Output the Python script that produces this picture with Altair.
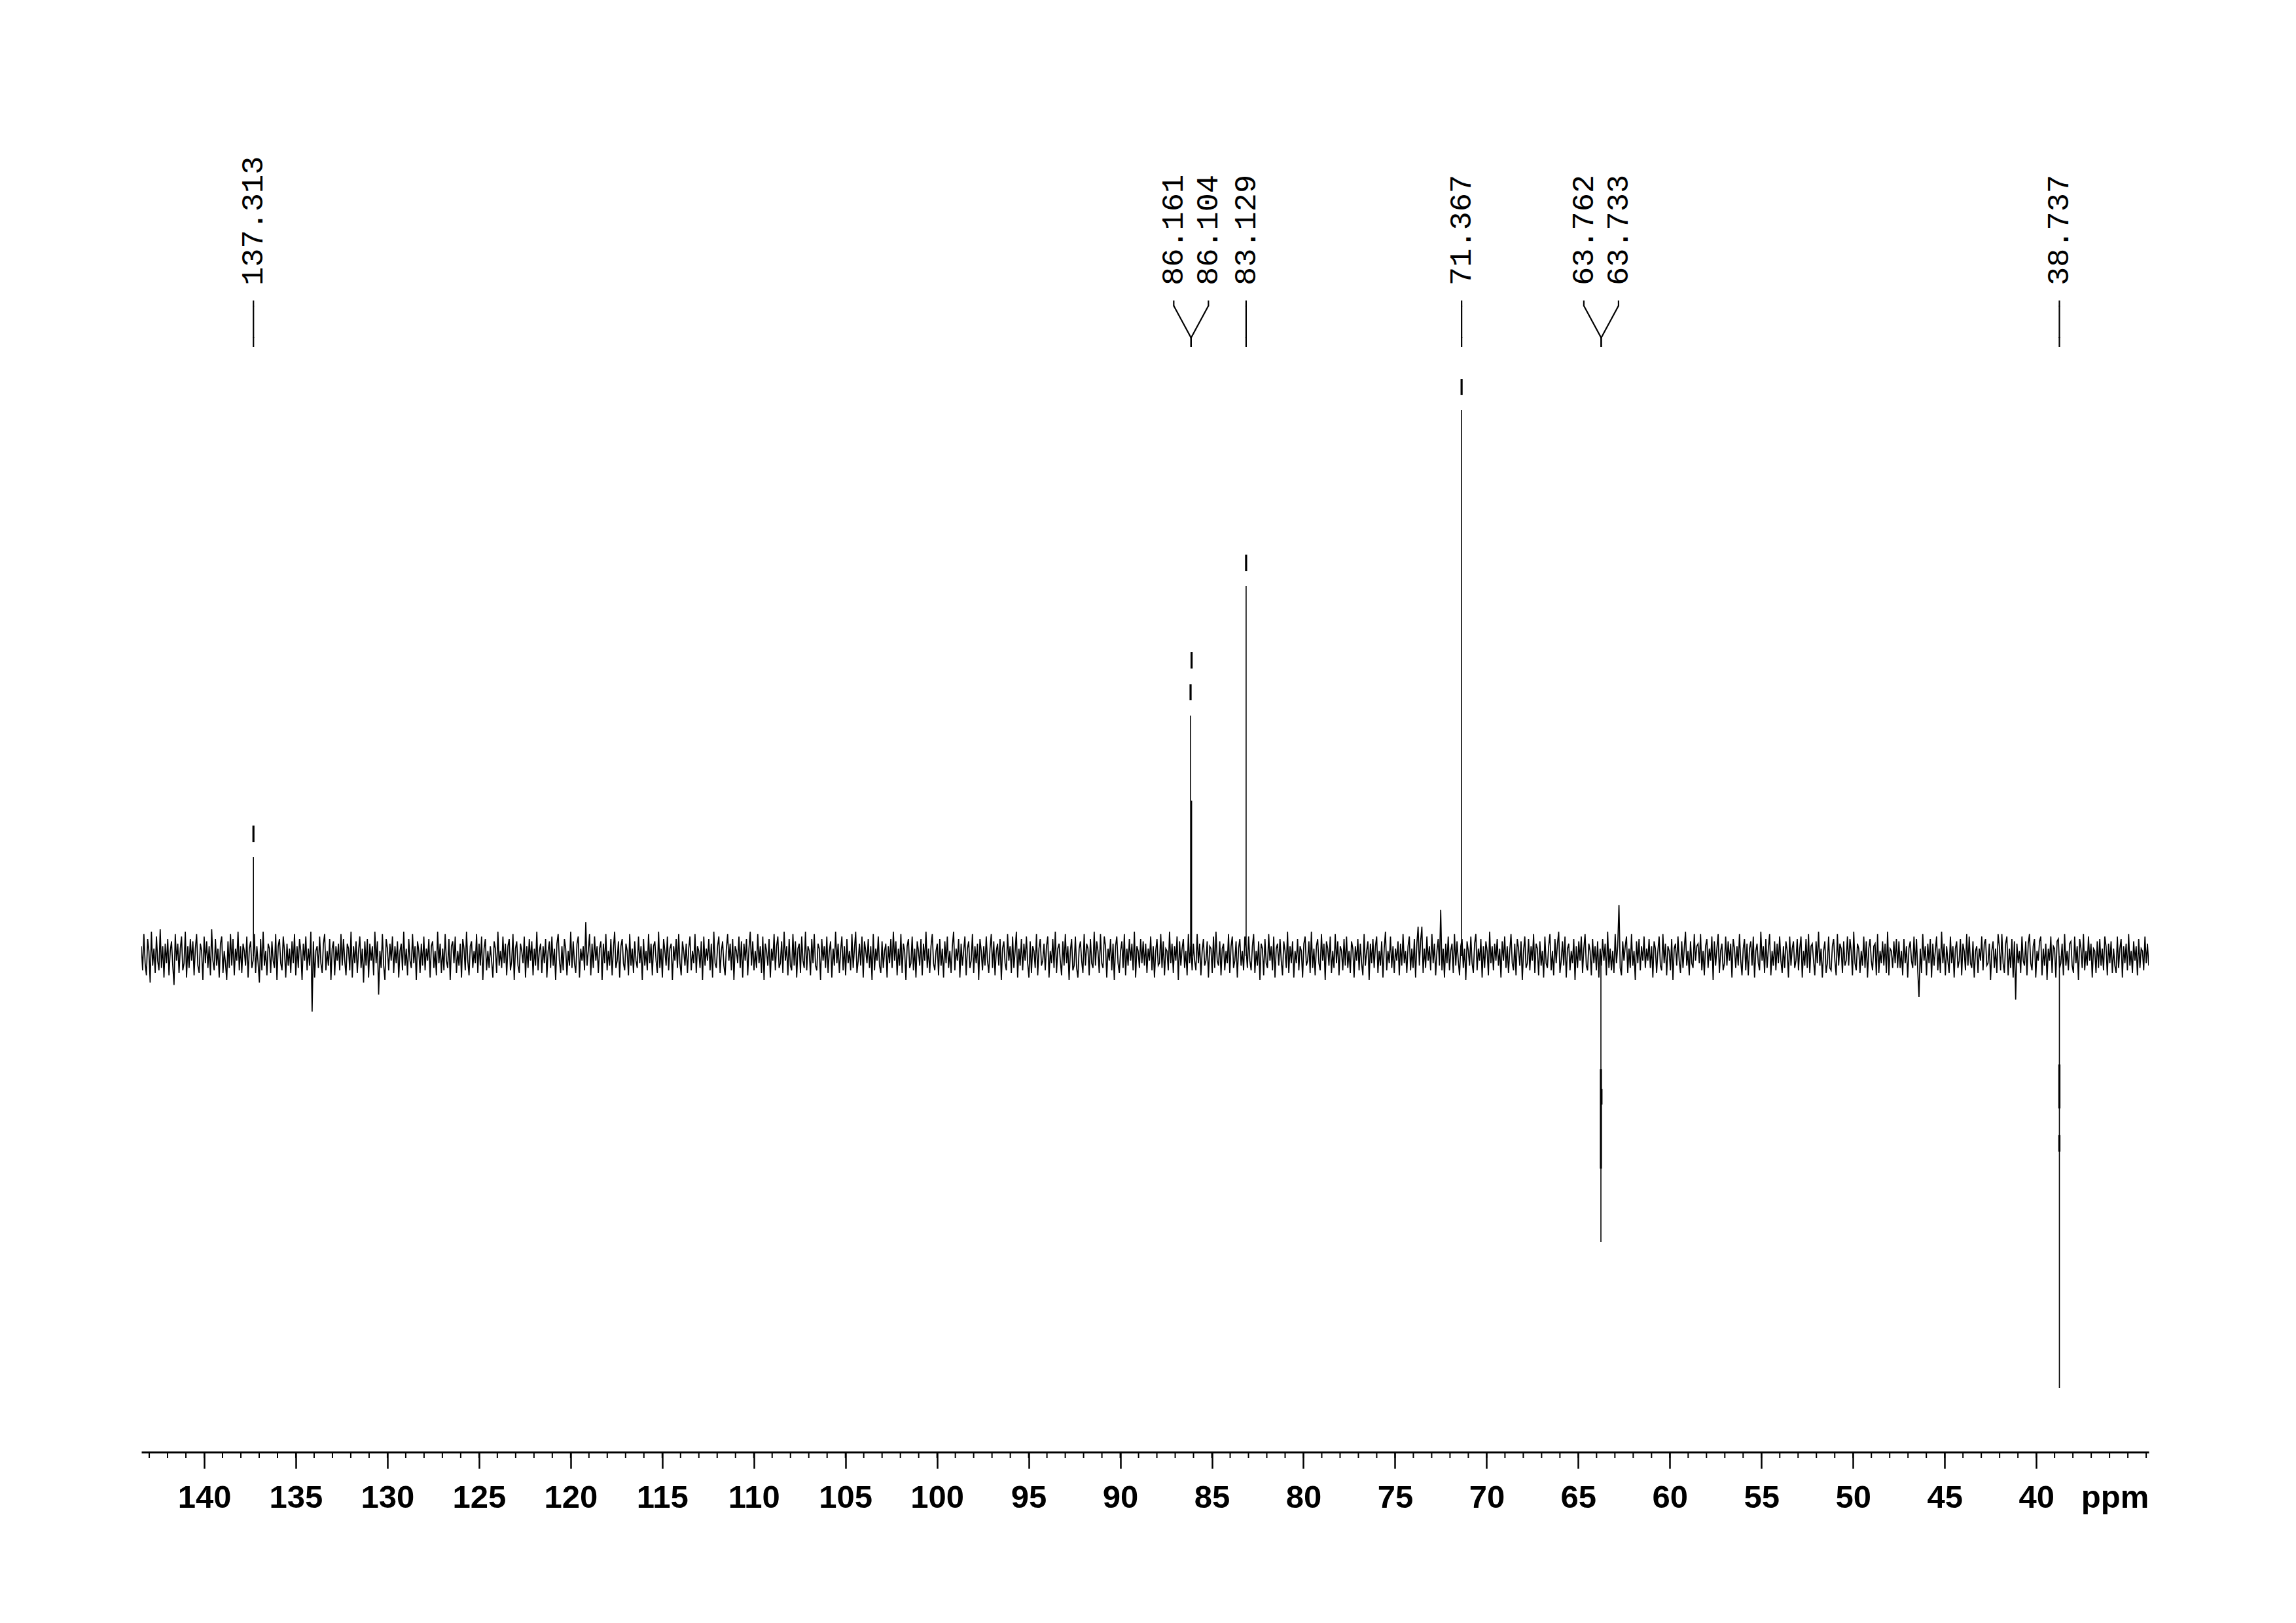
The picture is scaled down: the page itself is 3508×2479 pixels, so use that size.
import altair as alt
import pandas as pd

# ---------------- data ----------------
noise_start_ppm = 143.43
noise_end_ppm = 33.86
noise = [
    4,-6,9,-3,-8,7,2,-11,10,-4,3,-7,8,-2,-6,11,-5,4,-9,5,-3,7,-8,2,6,-4,-12,9,-2,5,-7,3,8,-6,-3,10,-9,4,-5,7,
    -2,6,-8,3,9,-4,-7,5,2,-10,8,-3,6,-5,4,-8,11,-2,-6,7,-4,3,-9,5,8,-7,2,-3,-10,6,-5,9,-4,7,-8,3,-2,10,-6,4,
    -7,5,2,-4,8,-9,3,6,-5,-2,9,-7,4,-3,-11,7,-6,10,-4,2,-8,5,3,-7,6,-2,-5,9,-10,4,7,-3,-6,8,2,-9,5,-4,3,-7,
    6,-3,9,-8,4,-5,7,2,-10,5,-2,8,-6,3,-4,10,-23,6,-9,2,4,-5,8,-3,-7,5,9,-6,2,-4,7,-10,3,6,-8,4,-2,5,-6,9,
    -4,7,-2,-8,5,3,-6,10,-9,4,-3,6,-7,2,8,-5,3,-11,6,-4,7,-9,5,-2,4,-8,10,-3,6,-16,2,-5,9,-4,-10,7,3,-6,5,-2,
    8,-7,4,-3,6,-9,2,5,-6,10,-4,3,-8,7,-2,-5,9,-3,4,-10,6,2,-7,5,-4,8,-6,3,-2,7,-9,4,6,-5,2,-8,10,-3,5,-7,
    3,-6,9,-2,-5,7,-10,4,6,-3,8,-7,2,-4,5,-9,7,3,-6,10,-2,-8,4,6,-5,2,-3,9,-7,5,-4,8,-10,3,7,-6,2,-5,4,-2,
    -9,6,3,-7,10,-4,2,-5,8,-3,5,-8,4,7,-6,-2,9,-10,3,6,-4,-7,5,2,-3,8,-9,4,-5,7,-2,6,-8,3,-4,10,-6,2,5,-7,
    4,-3,7,-9,2,6,-5,8,-4,3,-10,5,9,-2,-7,4,-6,7,3,-8,2,-4,10,-5,6,-3,-7,5,8,-9,3,-2,4,-6,14,-4,2,9,-8,5,
    -5,8,-2,4,-7,3,6,-10,5,-3,9,-6,2,-4,7,-8,3,10,-5,-2,6,-9,4,7,-3,-6,5,2,-8,9,-4,3,-7,6,-2,-5,8,-3,4,-10,
    7,-4,2,-6,9,-3,5,-8,4,6,-2,-7,10,-5,3,-9,7,2,-4,8,-6,3,5,-10,4,-2,7,-5,9,-3,-8,6,2,-4,5,-7,3,8,-6,2,
    -3,9,-7,4,2,-5,6,-10,8,-4,3,-2,7,-6,5,-9,10,-3,-5,4,8,-7,2,6,-4,-8,3,9,-2,5,-6,7,-10,4,2,-3,8,-5,6,-9,
    5,-2,7,-8,3,10,-4,6,-6,2,-5,9,-3,4,-7,8,-10,5,2,-4,7,-9,3,-2,9,-6,4,8,-5,-3,6,-7,10,-2,4,-8,7,-4,-6,9,
    -4,6,-9,3,5,-7,8,-2,-5,10,-6,4,2,-8,7,-3,9,-4,-6,5,3,-10,7,-2,4,-5,8,-7,2,6,-9,3,-4,10,-3,5,-7,2,8,-6,
    4,-8,7,-3,2,-6,9,-5,3,10,-7,-2,5,-4,8,-9,6,2,-3,7,-5,4,-10,9,-6,3,-2,8,-4,-7,6,-5,2,5,-9,4,-3,7,-5,10,
    -2,6,-8,3,-4,9,-7,5,2,-10,4,7,-5,-3,8,-6,3,-9,6,2,-4,7,-8,5,-2,10,-5,3,-7,4,9,-3,-6,2,5,-8,7,-4,3,-9,
    6,-3,8,-5,2,-7,4,10,-6,3,-2,7,-9,5,-4,2,8,-8,3,6,-5,-2,9,-7,4,-3,5,-10,7,2,-6,4,-4,8,-2,-7,3,9,-5,6,
    -8,2,5,-4,7,-10,3,6,-3,-6,9,-2,4,-7,8,-5,2,10,-9,3,-4,7,-6,5,-2,8,-3,-9,6,-7,4,2,-5,9,-8,3,7,-4,-2,5,
    -6,4,8,-9,2,-3,7,-5,10,-7,3,5,-2,-8,6,-4,9,-3,4,-10,2,7,-6,-4,8,-5,-9,3,6,-2,-7,9,-4,5,3,-8,7,-3,-5,10,
    -4,6,2,-7,9,-3,-5,8,4,-9,3,-2,7,-6,5,-10,4,8,-3,-7,2,6,-5,9,-8,3,-4,7,-2,5,-6,10,-9,4,2,-5,7,-3,6,-4,
    5,-7,3,-2,8,-6,4,-9,2,7,-4,-3,9,-5,6,-8,3,2,-6,10,-3,5,-7,4,-2,8,-10,6,-4,3,7,-5,2,-8,9,-3,4,-6,5,-2,
    -6,9,-3,5,-8,2,7,-4,-2,6,-9,4,3,-7,8,-5,10,-2,-4,6,-8,3,5,-6,2,-3,9,-7,4,8,-5,-2,6,-9,3,7,-4,2,-6,8,
    3,-5,8,-2,-6,4,9,-7,2,-4,6,-10,5,3,-8,7,-3,-5,9,-2,4,-6,8,-9,3,5,-4,7,-2,-8,6,2,-5,10,-7,4,-3,6,-9,2,
    -3,7,-6,4,2,-9,5,8,-4,-2,6,-7,10,-5,3,-8,4,7,-3,-6,9,-2,5,-10,6,3,-4,8,-7,2,-5,9,-3,6,-8,4,2,-6,7,-4,
    8,-5,2,-7,6,3,-9,4,-2,7,-6,5,-3,-8,9,-4,2,6,-10,5,-3,7,-5,4,8,-7,2,-4,6,-9,3,10,-6,2,-3,8,-5,4,-7,3,
    -2,6,-8,5,-4,9,-3,2,-7,4,8,-6,3,-5,7,-9,5,12,-4,6,12,-7,3,-5,8,-2,4,-6,9,-3,5,-8,2,7,-4,19,-6,3,-9,5,
    -3,8,-6,2,5,-7,9,-4,6,-2,-8,4,7,-5,3,-10,6,2,-4,8,-3,-7,5,9,-6,3,-2,7,-9,4,-5,6,2,-8,10,-3,4,-6,5,-2,
    7,-4,3,-9,6,-2,8,-5,4,-7,2,9,-3,-6,5,-8,7,3,-4,6,-10,2,8,-5,-3,7,-6,4,-2,9,-7,5,3,-8,6,-4,2,-9,8,-3,
    -5,4,9,-6,2,-8,7,-3,5,10,-7,-2,6,-4,8,-9,3,5,-6,2,-3,7,-10,4,-5,6,-2,8,-7,3,9,-4,-6,5,2,-8,7,-3,4,-6,
    6,-9,3,-4,7,-2,5,-8,10,-5,3,-6,2,-7,9,-3,4,21,-5,-8,6,-2,4,8,-7,3,-5,9,-4,2,-10,6,-3,7,-6,4,-2,8,-5,3,
    -2,7,-5,4,-9,6,3,-7,2,8,-4,-6,9,-3,5,-8,4,2,-6,7,-10,3,5,-4,8,-2,-7,6,-5,3,10,-4,2,-8,6,-3,-5,9,-2,4,
    5,-3,9,-6,2,-8,4,7,-5,3,-2,8,-10,6,-4,3,9,-7,2,5,-6,-3,8,-4,6,-2,5,-9,7,3,-5,4,-4,9,-2,-8,3,7,-6,5,
    -8,3,6,-4,8,-9,2,5,-3,-6,10,-2,4,-7,7,-5,3,9,-8,2,-4,6,-6,5,-3,8,-2,-7,4,-5,6,2,-9,8,-4,3,6,-5,-2,7,
    -6,3,8,-9,2,-4,7,-5,9,-7,4,5,-2,-8,6,-3,10,-4,3,-9,2,6,-7,-3,8,-5,-6,4,7,-2,-8,9,-4,5,3,-7,6,-4,-2,8,
    -4,7,2,-8,10,-3,-6,5,3,-7,2,-4,8,-5,6,-9,3,7,-2,-6,4,5,-8,9,-7,2,-3,6,-4,5,-7,10,-8,3,2,-5,6,-3,7,-5,
    6,-5,2,-8,7,-3,4,-9,3,6,-2,-5,8,-4,7,-6,-17,3,-7,9,-2,4,-8,5,-3,7,-9,5,-4,2,8,-6,3,-7,10,-3,5,-8,4,-2,
    -7,8,-3,4,-9,3,6,-5,-2,7,-8,5,2,-6,9,-4,8,-3,-5,6,-9,2,4,-7,3,-2,8,-6,5,7,-4,-3,5,-10,2,6,-5,3,-7,9,
    4,-6,9,-3,-7,5,8,-8,3,-5,7,-9,6,-18,5,-3,2,-7,8,-2,-4,6,-8,5,9,-3,-6,4,7,-9,2,-2,6,8,-8,3,-4,5,-10,3,
    -2,8,-7,4,3,-9,6,7,-5,-3,5,-8,9,-4,2,-6,5,6,-4,-7,8,-3,4,-10,7,3,-5,9,-6,2,-4,8,-2,5,-9,3,2,-7,6,-5,
    7,-4,3,-6,8,4,-8,5,-3,6,-7,3,-4,-7,8,-5,3,7,-9,4,-3,5,-6,9,-4,2,-7,6,-2,4,-8,7,-5,3,2,-6,8,-3,5,-4,
]

peak_ppm = [137.313, 86.161, 86.104, 83.129, 71.367, 63.762, 63.733, 38.737]
peak_labels = ["137.313", "86.161", "86.104", "83.129", "71.367", "63.762", "63.733", "38.737"]

# drawn pieces of each peak line (intensity, arbitrary units)
seg_ppm = [137.313, 137.313, 86.161, 86.161, 86.104, 86.104, 83.129, 83.129,
           71.367, 71.367, 63.762, 63.762, 63.733, 38.737, 38.737, 38.737]
seg_lo = [0, 47.0, 0, 105.6, 0, 118.6, 0, 158.9, 0, 231.6, -118.1, -87.8, -61.4, -178.4, -63.0, -80.8]
seg_hi = [40.8, 53.8, 99.2, 112.1, 64.1, 125.4, 152.7, 165.6, 225.4, 238.1, 0, -46.8, -54.9, 0, -44.8, -74.0]
seg_kind = ["trace", "top", "trace", "top", "trace", "top", "trace", "top",
            "trace", "top", "trace", "top", "top", "trace", "top", "top"]

major_ticks = list(range(40, 141, 5))
minor_ticks = list(range(34, 144))

# ---------------- layout ----------------
W = 3067
H = 2118
ppm_lo, ppm_hi = 33.86, 143.43
px_per_ppm = W / (ppm_hi - ppm_lo)
y_domain = [-204.86, 367.57]

n = len(noise)
step = (noise_start_ppm - noise_end_ppm) / (n - 1)
noise_df = pd.DataFrame({"ppm": [noise_start_ppm - i * step for i in range(n)],
                         "intensity": noise})
seg_df = pd.DataFrame({"ppm": seg_ppm, "lo": seg_lo, "hi": seg_hi, "kind": seg_kind})

# label positions: close peaks share a fork, labels spread apart
half_sep = 26.5 / px_per_ppm
rows = []
i = 0
while i < len(peak_ppm):
    if i + 1 < len(peak_ppm) and abs(peak_ppm[i] - peak_ppm[i + 1]) < 0.5:
        c = (peak_ppm[i] + peak_ppm[i + 1]) / 2
        rows.append({"label": peak_labels[i], "label_x": c + half_sep, "center": c})
        rows.append({"label": peak_labels[i + 1], "label_x": c - half_sep, "center": c})
        i += 2
    else:
        rows.append({"label": peak_labels[i], "label_x": peak_ppm[i], "center": peak_ppm[i]})
        i += 1
lab_df = pd.DataFrame(rows)
tick_df = pd.DataFrame({"tick": minor_ticks})

xscale = alt.Scale(domain=[ppm_hi, ppm_lo], nice=False, zero=False)
yscale = alt.Scale(domain=y_domain, nice=False, zero=False)

x_axis = alt.Axis(
    values=major_ticks, grid=False,
    domainColor="black", domainWidth=3,
    tickColor="black", tickWidth=2.5, tickSize=25,
    labelFont="Liberation Sans", labelFontWeight="bold", labelFontSize=49, labelColor="black",
    labelBaseline="alphabetic", labelPadding=59, labelFlush=False, labelOverlap=False,
    labelExpr="datum.value",
    titleFont="Liberation Sans", titleFontWeight="bold", titleFontSize=49, titleColor="black",
    titleX=3015, titleY=84, titleAlign="center", titleBaseline="alphabetic", titleAnchor="start",
)


def X(field):
    return alt.X(field, scale=xscale, axis=x_axis, title="ppm")


noise_layer = alt.Chart(noise_df).mark_line(color="black", strokeWidth=1.7, clip=True).encode(
    x=X("ppm:Q"),
    y=alt.Y("intensity:Q", scale=yscale, axis=None),
)

peak_layer = alt.Chart(seg_df).mark_rule(color="black").encode(
    x=X("ppm:Q"),
    y=alt.Y("lo:Q", scale=yscale, axis=None),
    y2="hi:Q",
    strokeWidth=alt.StrokeWidth("kind:N", scale=alt.Scale(domain=["trace", "top"], range=[1.6, 3.2]),
                                legend=None),
)

text_layer = alt.Chart(lab_df).mark_text(
    angle=270, align="left", baseline="middle", font="Liberation Mono",
    fontSize=47, color="black"
).encode(
    x=X("label_x:Q"),
    y=alt.value(336),
    text="label:N",
)

conn_a = alt.Chart(lab_df).mark_rule(color="black", strokeWidth=2.2).encode(
    x=X("label_x:Q"),
    y=alt.value(359), y2=alt.value(368),
)
conn_b = alt.Chart(lab_df).mark_rule(color="black", strokeWidth=2.2).encode(
    x=X("label_x:Q"),
    x2="center:Q",
    y=alt.value(367), y2=alt.value(416),
)
conn_c = alt.Chart(lab_df).mark_rule(color="black", strokeWidth=2.2).encode(
    x=X("center:Q"),
    y=alt.value(415), y2=alt.value(430),
)

minor_layer = alt.Chart(tick_df).mark_rule(color="black", strokeWidth=2).encode(
    x=X("tick:Q"),
    y=alt.value(H), y2=alt.value(H + 9),
)

chart = alt.layer(
    noise_layer, peak_layer, minor_layer, conn_a, conn_b, conn_c, text_layer
).properties(
    width=W, height=H,
    autosize=alt.AutoSizeParams(type="none"),
    padding={"left": 208, "top": 92, "right": 200, "bottom": 250},
    background="white",
).configure_view(stroke=None)

chart.save("out.html", embed_options={"renderer": "svg", "actions": False})
